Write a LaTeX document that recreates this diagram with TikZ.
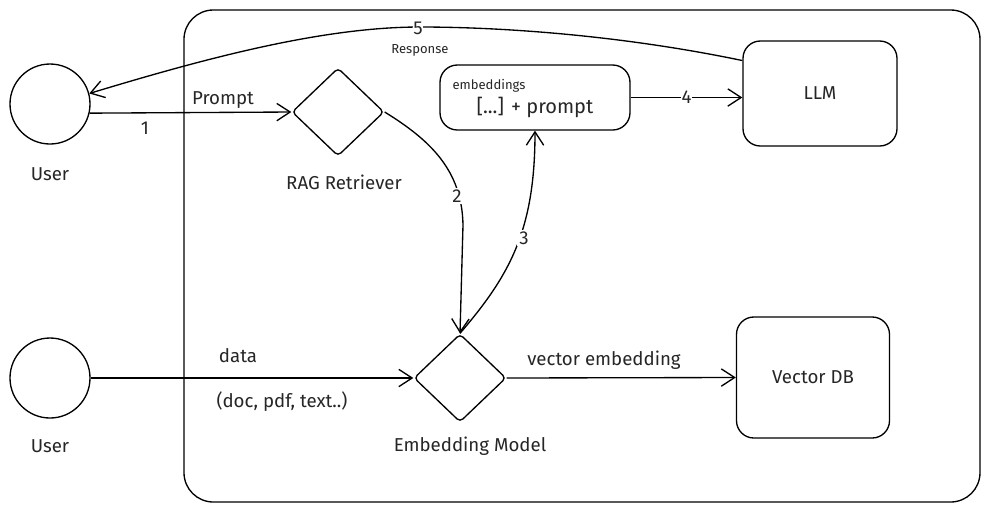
\documentclass[tikz,border=0pt]{standalone}
\usepackage{fontspec}
\setmainfont{Fira Sans}
\usetikzlibrary{shapes.geometric,arrows.meta}
\begin{document}
\begin{tikzpicture}[x=0.75pt,y=-0.75pt,line width=1pt,
  every node/.style={font=\fontsize{14}{16}\selectfont, text=black!85},
  arr/.style={-{Straight Barb[length=10pt,width=13pt,line width=1pt]}},
  person/.style={circle,draw,minimum size=60pt,inner sep=0pt},
  gate/.style={diamond,draw,minimum width=69pt,minimum height=66pt,inner sep=0pt,rounded corners=3pt},
  card/.style={draw,rounded corners=13pt,inner sep=0pt},
  tiny/.style={font=\fontsize{9.8}{11}\selectfont},
  cut/.style={fill=white,inner sep=1.5pt}]
\useasboundingbox (0,0) rectangle (990,512);
\draw[rounded corners=22pt] (184,10) rectangle (980,502);
% nodes
\node[person] (u1) at (50,104) {};
\node (u1l) at (50,174) {User};
\node[person] (u2) at (50,378) {};
\node (u2l) at (50,446) {User};
\node[gate] (rag) at (338,112) {};
\node (ragl) at (344,182) {RAG Retriever};
\node[card,minimum width=142.5pt,minimum height=48.75pt] (emb) at (535,97.5) {};
\node[tiny] (embt) at (489,86) {embeddings};
\node[font=\fontsize{15}{17}\selectfont] (embp) at (535,107) {[...] + prompt};
\node[card,minimum width=115.5pt,minimum height=78.75pt] (llm) at (820,93.5) {LLM};
\node[gate] (em) at (460,378) {};
\node (eml) at (470,446) {Embedding Model};
\node[card,minimum width=114.75pt,minimum height=90.75pt] (vdb) at (813,377.5) {Vector DB};
% connectors
\draw[arr] (u1.-13) -- (rag.west);
\node (l1) at (145,128) {1};
\node (lp) at (223,100) {Prompt};
\draw[arr] (rag.east) .. controls (430,140) and (462,170) .. (463,225) -- (em.north);
\node[cut] (l2) at (457,196) {2};
\draw[arr] (em.north) .. controls (510,275) and (535,230) .. (emb.south);
\node[cut] (l3) at (524,238) {3};
\draw[arr] (emb.east) -- (emb.east -| llm.west) node[cut,midway,inner sep=0.5pt] {4};
\draw[arr] (llm.157) .. controls (620,35) and (500,27) .. (420,27)
  .. controls (320,27) and (200,60) .. (u1.15);
\node[cut,inner sep=0.5pt] (l5) at (418,28) {5};
\node[tiny] (lr) at (420,50) {Response};
\draw[arr] (u2.east) -- (em.west);
\node (ld) at (238,356) {data};
\node (ldd) at (282,402) {(doc, pdf, text..)};
\draw[arr] (em.east) -- (vdb.west);
\node (lv) at (604,360) {vector embedding};
\end{tikzpicture}
\end{document}
